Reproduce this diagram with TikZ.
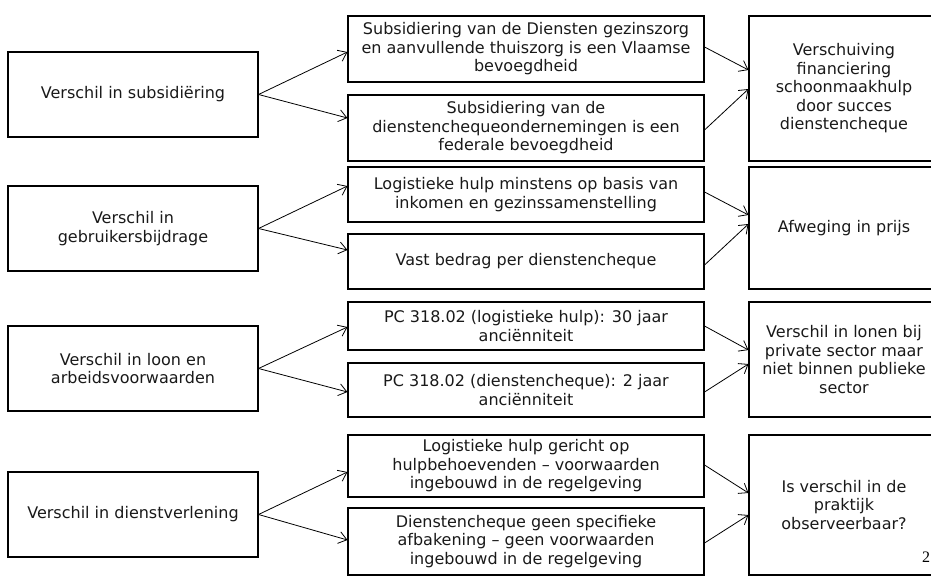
\documentclass[tikz,border=0pt]{standalone}
\usepackage{fontspec}
\setmainfont{DejaVu Sans}
\newfontfamily\pagefont{Liberation Serif}
\usetikzlibrary{calc,arrows.meta}

\tikzset{
  box/.style={draw, line width=0.8pt, align=center, inner sep=0pt,
    text=black!90, font=\fontsize{12}{13.9}\selectfont},
  lbox/.style={box, minimum width=187.5pt, minimum height=63.75pt},
  mbox/.style={box, minimum width=267pt},
  rbox/.style={box, minimum width=142.5pt},
  link/.style={-{Straight Barb[length=6pt,width=9pt]}, line width=0.6pt}
}

\begin{document}
\begin{tikzpicture}[x=0.75pt,y=-0.75pt]

% ( one unit is one pixel of the slide, y runs downwards )
\clip (0,0) rectangle (931,577);

% left column
\node[lbox] (l1) at (133,94.5) {Verschil in subsidiëring};
\node[lbox] (l2) at (133,228.5) {Verschil in\\gebruikersbijdrage};
\node[lbox] (l3) at (133,368.5) {Verschil in loon en\\arbeidsvoorwaarden};
\node[lbox] (l4) at (133,514.5) {Verschil in dienstverlening};

% middle column
\node[mbox, minimum height=49.5pt] (m1) at (526,49)
  {Subsidiering van de Diensten gezinszorg\\en aanvullende thuiszorg is een Vlaamse\\bevoegdheid};
\node[mbox, minimum height=49.5pt] (m2) at (526,128)
  {Subsidiering van de\\dienstenchequeondernemingen is een\\federale bevoegdheid};
\node[mbox, minimum height=41.25pt] (m3) at (526,194.5)
  {Logistieke hulp minstens op basis van\\inkomen en gezinssamenstelling};
\node[mbox, minimum height=41.25pt] (m4) at (526,261.5)
  {Vast bedrag per dienstencheque};
\node[mbox, minimum height=36pt] (m5) at (526,326)
  {PC 318.02 (logistieke hulp): 30 jaar\\anciënniteit};
\node[mbox, minimum height=40.5pt] (m6) at (526,390)
  {PC 318.02 (dienstencheque): 2 jaar\\anciënniteit};
\node[mbox, minimum height=46.5pt] (m7) at (526,466)
  {Logistieke hulp gericht op\\hulpbehoevenden -- voorwaarden\\ingebouwd in de regelgeving};
\node[mbox, minimum height=50.25pt] (m8) at (526,541.5)
  {Dienstencheque geen specifieke\\afbakening -- geen voorwaarden\\ingebouwd in de regelgeving};

% right column
\node[rbox, minimum height=108.75pt] (r1) at (844,88.5)
  {Verschuiving\\financiering\\schoonmaakhulp\\door succes\\dienstencheque};
\node[rbox, minimum height=91.5pt] (r2) at (844,228) {Afweging in prijs};
\node[rbox, minimum height=86.25pt] (r3) at (844,359.5)
  {Verschil in lonen bij\\private sector maar\\niet binnen publieke\\sector};
\node[rbox, minimum height=105pt] (r4) at (844,505)
  {Is verschil in de\\praktijk\\observeerbaar?};

% left to middle
\draw[link] (l1.east) -- ($(m1.west)+(0,3)$);
\draw[link] (l1.east) -- ($(m2.west)+(0,-10)$);
\draw[link] (l2.east) -- ($(m3.west)+(0,-8.5)$);
\draw[link] (l2.east) -- ($(m4.west)+(0,-11.5)$);
\draw[link] (l3.east) -- ($(m5.west)+(0,1)$);
\draw[link] (l3.east) -- ($(m6.west)+(0,2)$);
\draw[link] (l4.east) -- ($(m7.west)+(0,6)$);
\draw[link] (l4.east) -- ($(m8.west)+(0,-1.5)$);

% middle to right
\draw[link] ($(m1.east)+(0,-2)$) -- ($(r1.west)+(0,-18.5)$);
\draw[link] ($(m2.east)+(0,2)$) -- ($(r1.west)+(0,0.5)$);
\draw[link] ($(m3.east)+(0,-2.5)$) -- ($(r2.west)+(0,-13)$);
\draw[link] ($(m4.east)+(0,3.5)$) -- ($(r2.west)+(0,-4)$);
\draw[link] (m5.east) -- ($(r3.west)+(0,-9.5)$);
\draw[link] ($(m6.east)+(0,2)$) -- ($(r3.west)+(0,4.5)$);
\draw[link] ($(m7.east)+(0,-1)$) -- ($(r4.west)+(0,-12)$);
\draw[link] ($(m8.east)+(0,1.5)$) -- ($(r4.west)+(0,10)$);

% page number
\node[inner sep=0pt, font=\pagefont\fontsize{12}{14}\selectfont] (page) at (926,557) {2};
\end{tikzpicture}
\end{document}
